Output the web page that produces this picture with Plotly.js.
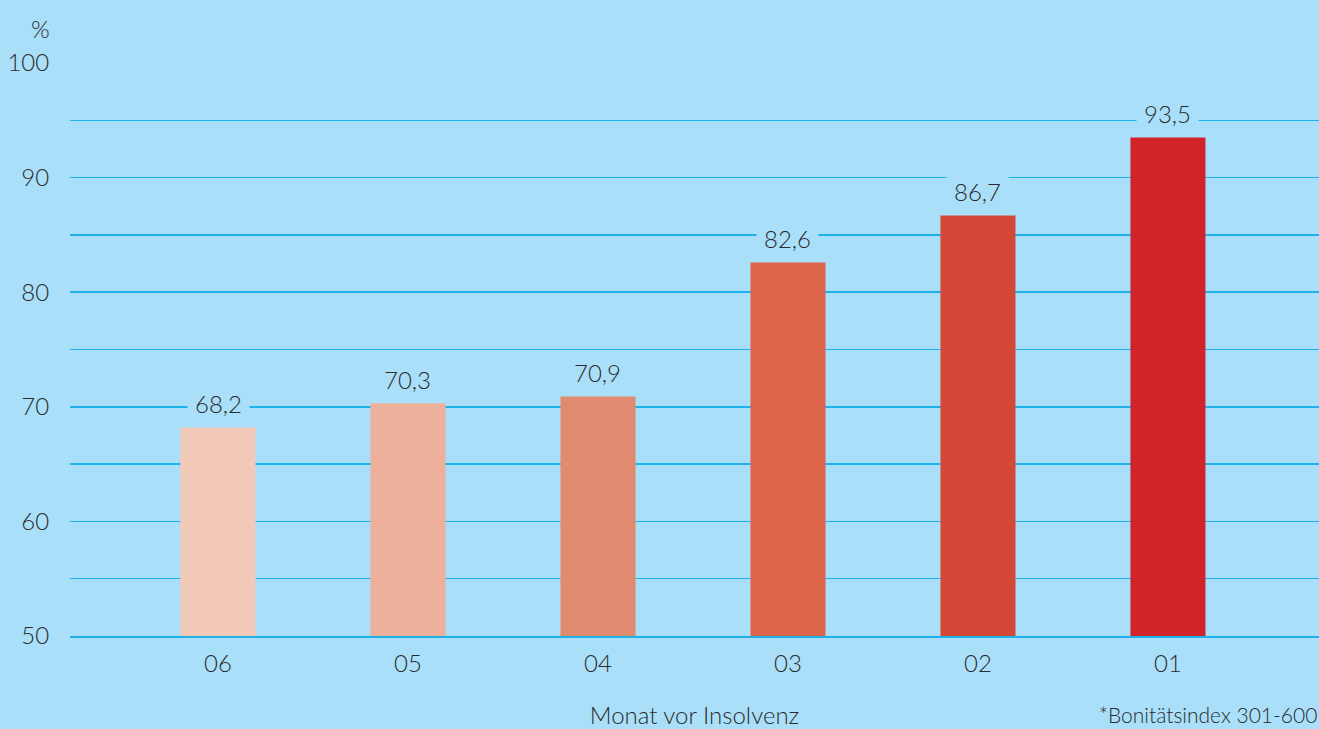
<!DOCTYPE html>
<html>
<head>
<meta charset="utf-8">
<script src="https://cdn.plot.ly/plotly-3.0.1.min.js"></script>
<style>html,body{margin:0;padding:0;background:#aadff9;}#chart{width:1319px;height:729px;}</style>
</head>
<body>
<div id="chart"></div>
<script>
const months = ["06", "05", "04", "03", "02", "01"];
const values = [68.2, 70.3, 70.9, 82.6, 86.7, 93.5];
const labels = ["68,2", "70,3", "70,9", "82,6", "86,7", "93,5"];
const barColors = ["#f2c9b8", "#ecb09b", "#e08b70", "#dd654b", "#d54838", "#d1232a"];
const yTickValues = [50, 60, 70, 80, 90, 100];
const yTickLabels = ["50", "60", "70", "80", "90", "100"];

const bg = "#aadff9";
const grid = "#1fb2ea";
const txt = "#2b2b2b";
const fontFam = "Lato, 'Open Sans', sans-serif";
const fw = 300;

const trace = {
  type: "bar",
  x: months,
  y: values,
  base: 0,
  width: 0.395,
  marker: {color: barColors},
  textposition: "none",
  hoverinfo: "skip"
};

const annotations = months.map((m, i) => ({
  x: i, y: values[i], xref: "x", yref: "y",
  text: labels[i], showarrow: false,
  yanchor: "bottom", yshift: 1,
  bgcolor: bg, borderpad: 7,
  font: {family: fontFam, size: 24, color: txt, weight: fw}
}));
annotations.push({
  xref: "paper", yref: "paper", x: -0.024, y: 1.0, yshift: 18,
  xanchor: "center", yanchor: "bottom", text: "%", showarrow: false,
  font: {family: fontFam, size: 24, color: txt, weight: fw}
});
annotations.push({
  xref: "paper", yref: "paper", x: 0.822, y: 0, yshift: -78,
  xanchor: "left", yanchor: "middle", text: "*Bonitätsindex 301-600", showarrow: false,
  font: {family: fontFam, size: 21, color: txt, weight: fw}
});

const layout = {
  width: 1319, height: 729,
  paper_bgcolor: bg, plot_bgcolor: bg,
  margin: {l: 70, r: 0, t: 63, b: 93},
  showlegend: false,
  hovermode: false,
  font: {family: fontFam, color: txt},
  xaxis: {
    type: "category",
    range: [-0.779, 5.795],
    showgrid: false, zeroline: false,
    showline: true, linecolor: grid, linewidth: 2,
    ticks: "outside", ticklen: 5, tickcolor: "rgba(0,0,0,0)",
    tickfont: {family: fontFam, size: 24, color: txt, weight: fw},
    title: {text: "Monat vor Insolvenz", standoff: 33, font: {family: fontFam, size: 24, color: txt, weight: fw}},
    fixedrange: true
  },
  yaxis: {
    range: [50, 100],
    tickvals: yTickValues, ticktext: yTickLabels,
    showgrid: true, gridcolor: grid, gridwidth: 1.5,
    minor: {dtick: 5, showgrid: true, gridcolor: grid, gridwidth: 1.5},
    zeroline: false, showline: false,
    ticks: "outside", ticklen: 15, tickcolor: "rgba(0,0,0,0)",
    tickfont: {family: fontFam, size: 24, color: txt, weight: fw},
    fixedrange: true
  },
  annotations: annotations
};

Plotly.newPlot("chart", [trace], layout, {displayModeBar: false, staticPlot: true});
</script>
</body>
</html>
